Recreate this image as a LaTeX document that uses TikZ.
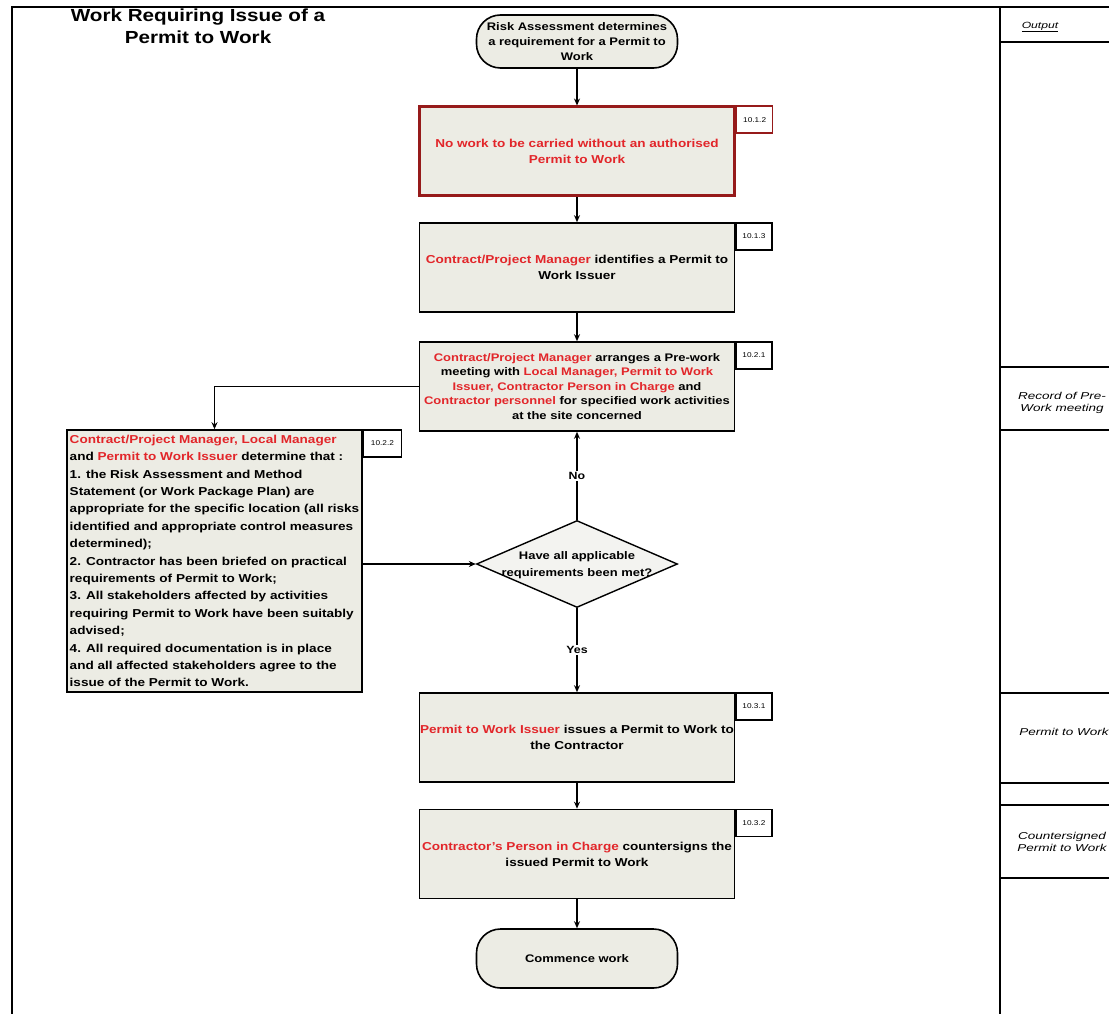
\documentclass[tikz,border=0pt]{standalone}
\usepackage{fontspec}
\setmainfont{Liberation Sans}[FakeStretch=1.18]
\newfontfamily\colfont{Liberation Sans}[FakeStretch=1.35]
\usetikzlibrary{shapes.geometric,arrows.meta,calc}

\definecolor{boxfill}{RGB}{236,236,228}
\definecolor{diafill}{RGB}{243,243,240}
\definecolor{redtxt}{RGB}{226,38,42}
\definecolor{darkred}{RGB}{150,26,26}
\newcommand{\rd}[1]{\textcolor{redtxt}{#1}}

\tikzset{
  stepbox/.style={draw=black, line width=1.6pt, fill=boxfill,
    minimum width=315pt, minimum height=89pt, inner sep=0pt, align=center,
    font=\bfseries\fontsize{11.5}{16}\selectfont},
  tagbox/.style={draw=black, line width=1.3pt, fill=white, anchor=north west,
    minimum width=36pt, minimum height=27pt, inner sep=0pt,
    font=\fontsize{7}{8}\selectfont},
  term/.style={draw=black, line width=1.6pt, fill=boxfill, rounded corners=24pt,
    minimum width=201pt, inner sep=0pt, align=center,
    font=\bfseries\fontsize{11}{15}\selectfont},
  decision/.style={shape=diamond, draw=black, line width=1.4pt, fill=diafill,
    minimum width=201pt, minimum height=87pt, inner sep=0pt,
    font=\bfseries\fontsize{11}{17}\selectfont},
  flow/.style={line width=1.5pt, -{Stealth[length=7pt,width=6pt]}},
  lbl/.style={fill=white, inner sep=1.5pt, font=\bfseries\fontsize{10.5}{12}\selectfont},
  frame/.style={line width=1.4pt},
  outtxt/.style={font=\colfont\itshape\fontsize{10}{12}\selectfont, align=center},
}

\begin{document}
\begin{tikzpicture}[x=1pt,y=-1pt]
\useasboundingbox (0,0) rectangle (1109,1014);
\fill[white] (0,0) rectangle (1109,1014);

% page frame and output column
\draw[frame] (12,1014) -- (12,7) -- (1109,7);
\draw[frame] (1000,7) -- (1000,1014);
\foreach \yy in {42,367,430,693,783,805,878}
  \draw[line width=1.2pt] (1000,\yy) -- (1109,\yy);

\node[font=\colfont\itshape\fontsize{9}{11}\selectfont] (outhead) at (1040,27) {\underline{Output}};
\begin{scope}
  \clip (1000,7) rectangle (1109,1014);
  \node[outtxt] (out1) at (1062,403) {Record of Pre-\\Work meeting};
  \node[outtxt] (out2) at (1064,732) {Permit to Work};
  \node[outtxt] (out3) at (1062,842) {Countersigned\\Permit to Work};
\end{scope}

% title
\node[font=\bfseries\fontsize{17.5}{22}\selectfont, align=center] (title) at (198,26)
  {Work Requiring Issue of a\\Permit to Work};

% main flow
\node[term, minimum height=53pt] (start) at (577,41.5)
  {Risk Assessment determines\\a requirement for a Permit to\\Work};

\node[stepbox, draw=darkred, line width=3pt] (b1) at (577,151.5)
  {\rd{No work to be carried without an authorised}\\\rd{Permit to Work}};
\node[tagbox, draw=darkred] (t1) at (b1.north east) {10.1.2};

\node[stepbox] (b2) at (577,267.5)
  {\rd{Contract/Project Manager} identifies a Permit to\\Work Issuer};
\node[tagbox] (t2) at (b2.north east) {10.1.3};

\node[stepbox, font=\bfseries\fontsize{11}{14.5}\selectfont] (b3) at (577,386.5)
  {\rd{Contract/Project Manager} arranges a Pre-work\\
   meeting with \rd{Local Manager, Permit to Work}\\
   \rd{Issuer, Contractor Person in Charge} and\\
   \rd{Contractor personnel} for specified work activities\\
   at the site concerned};
\node[tagbox] (t3) at (b3.north east) {10.2.1};

\node[stepbox, minimum width=295pt, minimum height=262pt, align=left,
      font=\bfseries\fontsize{11.5}{17.4}\selectfont] (left) at (214.5,561)
  {\rd{Contract/Project Manager, Local Manager}\\
   and \rd{Permit to Work Issuer} determine that :\\
   1. the Risk Assessment and Method\\
   Statement (or Work Package Plan) are\\
   appropriate for the specific location (all risks\\
   identified and appropriate control measures\\
   determined);\\
   2. Contractor has been briefed on practical\\
   requirements of Permit to Work;\\
   3. All stakeholders affected by activities\\
   requiring Permit to Work have been suitably\\
   advised;\\
   4. All required documentation is in place\\
   and all affected stakeholders agree to the\\
   issue of the Permit to Work.};
\node[tagbox, minimum width=38pt] (t4) at (left.north east) {10.2.2};

\node[decision] (dia) at (577,564)
  {\raisebox{-3pt}[0pt][0pt]{\makebox[0pt]{\begin{tabular}{@{}c@{}}Have all applicable\\requirements been met?\end{tabular}}}};

\node[stepbox] (b4) at (577,737.5)
  {\rd{Permit to Work Issuer} issues a Permit to Work to\\the Contractor};
\node[tagbox] (t5) at (b4.north east) {10.3.1};

\node[stepbox] (b5) at (577,854)
  {\rd{Contractor's Person in Charge} countersigns the\\issued Permit to Work};
\node[tagbox] (t6) at (b5.north east) {10.3.2};

\node[term, minimum height=59pt] (stop) at (577,958.5) {Commence work};

% connectors
\draw[flow] (start) -- (b1);
\draw[flow] (b1) -- (b2);
\draw[flow] (b2) -- (b3);
\draw[flow] (b3.west) -| (left.north);
\draw[flow] (left.east |- dia.west) -- (dia.west);
\draw[flow] (dia.north) -- node[lbl] (no) {No} (b3.south);
\draw[flow] (dia.south) -- node[lbl] (yes) {Yes} (b4.north);
\draw[flow] (b4) -- (b5);
\draw[flow] (b5) -- (stop);
\end{tikzpicture}
\end{document}
